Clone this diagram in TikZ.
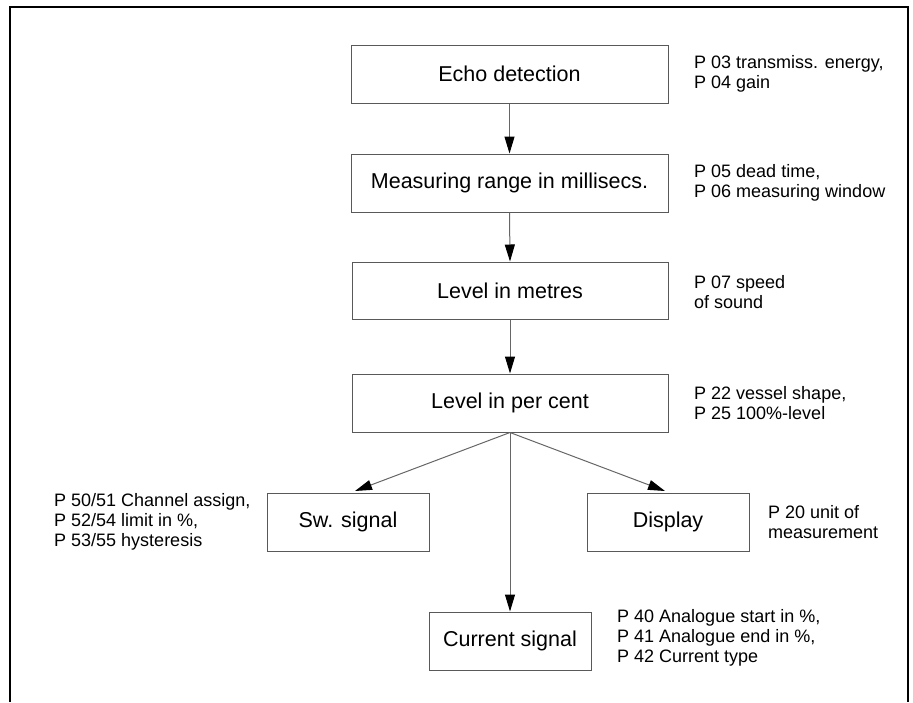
\documentclass[tikz,border=0pt]{standalone}
\usepackage{fontspec}
\setmainfont{Liberation Sans}
\usetikzlibrary{arrows.meta}
\begin{document}
\begin{tikzpicture}[x=1pt,y=-1pt,
  box/.style={draw=black!65,line width=1pt,rectangle,inner sep=0pt,
    minimum width=#1,minimum height=58pt,font=\fontsize{21.5}{24}\selectfont},
  box/.default=317pt,
  note/.style={anchor=west,align=left,inner sep=0pt,font=\fontsize{18}{20}\selectfont},
  flow/.style={draw=black!60,line width=1pt,-{Triangle[length=17pt,width=10pt,color=black]}},
  frame/.style={draw=black,line width=1.3pt}]
\useasboundingbox (0,0) rectangle (913,702);
\draw[frame] (10,702) -- (10,7) -- (908,7) -- (908,702);

\node[box] (echo) at (509.5,74) {Echo detection};
\node[box] (meas) at (509.5,183) {Measuring range in millisecs.};
\node[box=316pt,minimum height=57pt] (metres) at (510,290.5) {Level in metres};
\node[box=316pt] (pct) at (510,403) {Level in per cent};
\node[box=162pt] (sw) at (348,522) {Sw. signal};
\node[box=162pt] (disp) at (668,522) {Display};
\node[box=162pt] (cur) at (510,641) {Current signal};

\node[note] (n1) at (694,74) {P 03 transmiss. energy,\\P 04 gain};
\node[note] (n2) at (694,183) {P 05 dead time,\\P 06 measuring window};
\node[note] (n3) at (694,292) {P 07 speed\\of sound};
\node[note] (n4) at (694,403) {P 22 vessel shape,\\P 25 100\%-level};
\node[note] (n5) at (54,522) {P 50/51 Channel assign,\\P 52/54 limit in \%,\\P 53/55 hysteresis};
\node[note] (n6) at (768,522) {P 20 unit of\\measurement};
\node[note] (n7) at (617,638) {P 40 Analogue start in \%,\\P 41 Analogue end in \%,\\P 42 Current type};

\coordinate (swtip) at (355,491);
\coordinate (disptip) at (665,491);
\draw[flow] (echo.south) -- (meas.north);
\draw[flow] (meas.south) -- (metres.north);
\draw[flow] (metres.south) -- (pct.north);
\draw[flow] (pct.south) -- (swtip);
\draw[flow] (pct.south) -- (disptip);
\draw[flow] (pct.south) -- (cur.north);
\end{tikzpicture}
\end{document}
